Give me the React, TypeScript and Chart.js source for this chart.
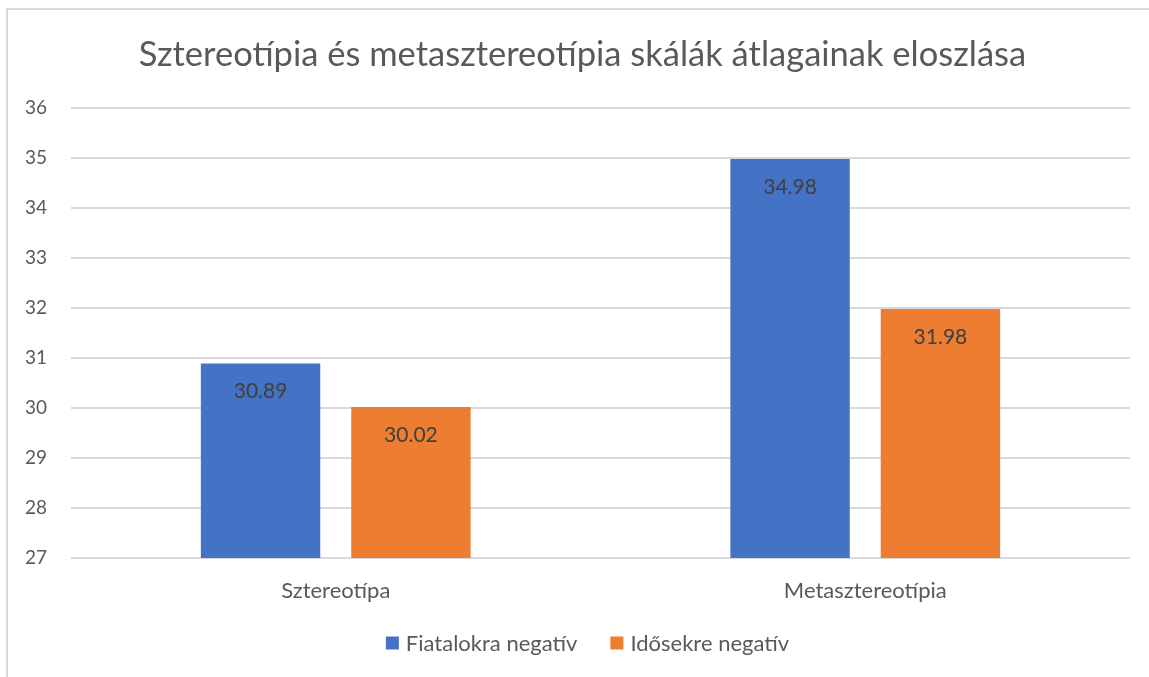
import React, { useEffect, useRef } from "react";
import { Chart, registerables } from "chart.js";

Chart.register(...registerables);

const TITLE = "Sztereotípia és metasztereotípia skálák átlagainak eloszlása";
const CATEGORIES = ["Sztereotípa", "Metasztereotípia"];
const SERIES_NAMES = ["Fiatalokra negatív", "Idősekre negatív"];
const FIATALOKRA = [30.89, 34.98];
const IDOSEKRE = [30.02, 31.98];
const COLORS = ["#4472C4", "#ED7D31"];
const Y_MIN = 27;
const Y_MAX = 36;

const FONT = "Lato, 'Open Sans', sans-serif";

const overlayPlugin = {
  id: "overlay",
  afterDatasetsDraw(chart: any) {
    const ctx = chart.ctx;
    ctx.save();
    ctx.fillStyle = "#404040";
    ctx.font = `21px ${FONT}`;
    ctx.textAlign = "center";
    ctx.textBaseline = "middle";
    chart.data.datasets.forEach((ds: any, di: number) => {
      const meta = chart.getDatasetMeta(di);
      meta.data.forEach((bar: any, i: number) => {
        ctx.fillText(ds.data[i].toFixed(2), bar.x, bar.y + 28);
      });
    });
    ctx.restore();
  },
  afterDraw(chart: any) {
    const ctx = chart.ctx;
    ctx.save();
    // title
    ctx.fillStyle = "#595959";
    ctx.font = `34.5px ${FONT}`;
    ctx.textAlign = "center";
    ctx.textBaseline = "alphabetic";
    ctx.fillText(TITLE, 582.5, 66);
    // legend
    ctx.font = `22px ${FONT}`;
    ctx.textAlign = "left";
    ctx.textBaseline = "middle";
    const gap = 33;
    const box = 13;
    const widths = SERIES_NAMES.map((n) => box + 7 + ctx.measureText(n).width);
    const total = widths.reduce((a, b) => a + b, 0) + gap * (widths.length - 1);
    let x = 587.5 - total / 2;
    const y = 643;
    SERIES_NAMES.forEach((n, i) => {
      ctx.fillStyle = COLORS[i];
      ctx.fillRect(x, y - box / 2, box, box);
      ctx.fillStyle = "#595959";
      ctx.fillText(n, x + box + 7, y + 1);
      x += widths[i] + gap;
    });
    ctx.restore();
  },
};

export default function App() {
  const ref = useRef<HTMLCanvasElement>(null);
  useEffect(() => {
    document.body.style.margin = "0";
    document.body.style.overflow = "hidden";
    const chart = new Chart(ref.current!, {
      type: "bar",
      data: {
        labels: CATEGORIES,
        datasets: [
          {
            label: SERIES_NAMES[0],
            data: FIATALOKRA,
            backgroundColor: COLORS[0],
            categoryPercentage: 0.568,
            barPercentage: 0.794,
          },
          {
            label: SERIES_NAMES[1],
            data: IDOSEKRE,
            backgroundColor: COLORS[1],
            categoryPercentage: 0.568,
            barPercentage: 0.794,
          },
        ],
      },
      options: {
        animation: false,
        responsive: false,
        devicePixelRatio: 1,
        layout: { padding: { top: 108, left: 0, right: 19, bottom: 0 } },
        plugins: {
          legend: { display: false },
          title: { display: false },
          tooltip: { enabled: false },
        },
        scales: {
          x: {
            grid: { display: false, drawTicks: false },
            border: { display: false },
            ticks: {
              color: "#595959",
              font: { family: FONT, size: 22 },
              padding: 20,
            },
            afterFit: (scale: any) => {
              scale.height = 119;
            },
          },
          y: {
            min: Y_MIN,
            max: Y_MAX,
            ticks: {
              stepSize: 1,
              color: "#595959",
              font: { family: FONT, size: 19 },
              padding: 24,
            },
            grid: { color: "#D9D9D9", lineWidth: 2, drawTicks: false },
            border: { display: false },
            afterFit: (scale: any) => {
              scale.width = 71;
            },
          },
        },
      },
      plugins: [overlayPlugin],
    });
    return () => chart.destroy();
  }, []);
  return (
    <div style={{ position: "fixed", left: 0, top: 0, width: 1149, height: 677, background: "#fff" }}>
      <canvas ref={ref} width={1149} height={677} style={{ position: "absolute", left: 0, top: 0 }} />
      <div
        style={{
          position: "absolute",
          left: 6,
          top: 8,
          width: 1200,
          height: 720,
          border: "2px solid #D9D9D9",
          pointerEvents: "none",
        }}
      />
    </div>
  );
}
